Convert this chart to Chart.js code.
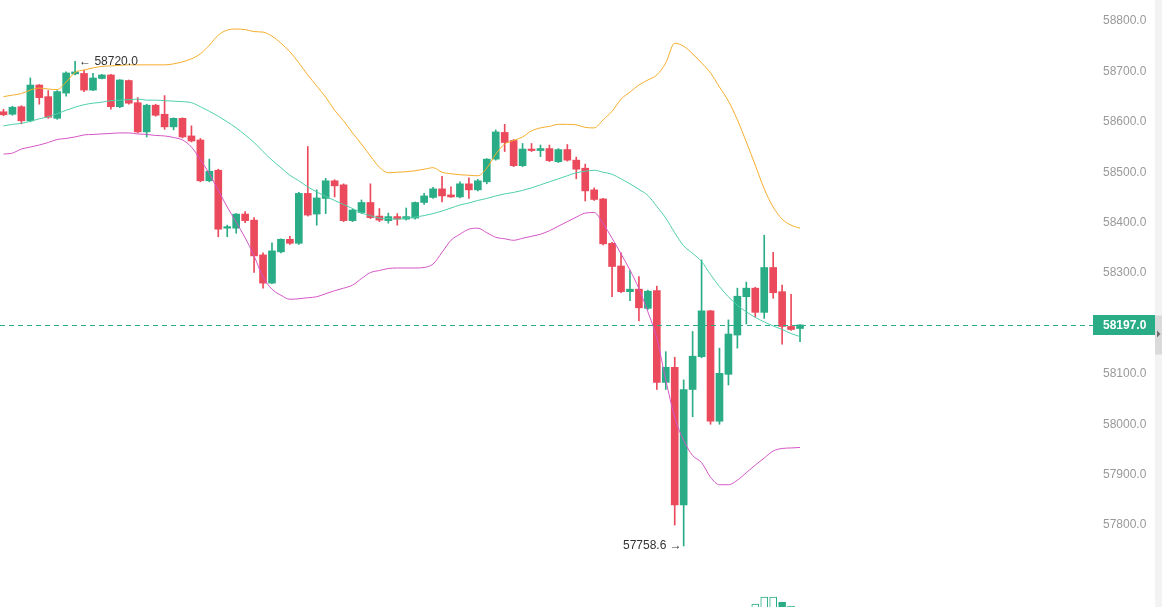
<!DOCTYPE html>
<html>
<head>
<meta charset="utf-8">
<script src="https://cdn.jsdelivr.net/npm/chart.js@4.4.1/dist/chart.umd.min.js"></script>
<style>
  html, body { margin: 0; padding: 0; background: #fff; overflow: hidden; }
  #wrap { position: relative; width: 1162px; height: 607px; overflow: hidden; }
  #rail { position: absolute; left: 1155px; top: 0; width: 7px; height: 607px; background: #f3f3f3; }
  #priceBox { position: absolute; left: 0; top: 0; width: 1162px; height: 578px; }
  #volBox { position: absolute; left: 0; top: 578px; width: 1162px; height: 100px; }
</style>
</head>
<body>
<div id="wrap">
  <div id="rail"></div>
  <div id="priceBox"><canvas id="priceChart"></canvas></div>
  <div id="volBox"><canvas id="volChart"></canvas></div>
</div>
<script>
// candles, oldest first
const opens = [58620,58615,58630,58602,58673,58650,58607,58657,58695,58696,
  58663,58686,58693,58630,58682,58638,58580,58633,58615,58590,
  58607,58572,58564,58483,58504,58389,58389,58417,58405,58336,
  58280,58342,58367,58359,58458,58417,58448,58483,58475,58404,
  58420,58440,58413,58404,58412,58407,58409,58440,58450,58467,
  58455,58451,58477,58465,58481,58526,58579,58563,58513,58546,
  58543,58547,58521,58545,58524,58508,58465,58447,58359,58314,
  58263,58268,58230,58265,58083,58113,57840,58069,58134,58225,
  58006,58099,58177,58253,58270,58222,58311,58263,58194,58190];
const highs = [58625,58631,58632,58687,58674,58662,58662,58699,58720,58702,
  58696,58694,58694,58684,58683,58648,58635,58635,58652,58608,
  58608,58592,58567,58526,58506,58395,58418,58422,58410,58340,
  58360,58368,58373,58460,58551,58465,58488,58485,58477,58427,
  58445,58477,58428,58419,58418,58429,58441,58458,58470,58492,
  58471,58481,58489,58486,58527,58584,58595,58565,58557,58557,
  58554,58554,58547,58555,58530,58516,58469,58448,58361,58340,
  58305,58293,58266,58274,58144,58133,58088,58184,58326,58226,
  58151,58207,58270,58282,58272,58375,58341,58276,58258,58198];
const lows = [58612,58613,58596,58600,58635,58607,58605,58651,58693,58660,
  58662,58685,58625,58628,58635,58578,58570,58611,58585,58584,
  58568,58560,58481,58481,58372,58372,58379,58400,58301,58270,
  58279,58340,58357,58357,58413,58395,58418,58451,58402,58402,
  58418,58408,58402,58399,58395,58405,58407,58436,58448,58441,
  58450,58449,58448,58463,58477,58524,58541,58511,58511,58541,
  58531,58521,58519,58522,58487,58443,58444,58356,58253,58261,
  58245,58205,58228,58069,58069,57800,57758.6,58015,58132,58000,
  58000,58078,58151,58199,58213,58210,58250,58159,58186,58164];
const closes = [58614,58629,58602,58673,58648,58609,58660,58697,58699,58663,
  58687,58693,58630,58683,58637,58580,58633,58613,58590,58607,
  58570,58562,58483,58502,58387,58392,58417,58404,58334,58280,
  58344,58367,58359,58458,58415,58449,58483,58473,58404,58425,
  58440,58410,58405,58412,58407,58412,58440,58453,58467,58453,
  58451,58477,58465,58483,58526,58580,58559,58513,58546,58543,
  58547,58523,58545,58524,58506,58463,58446,58358,58313,58263,
  58268,58231,58264,58083,58113,57840,58069,58135,58225,58006,
  58101,58179,58254,58270,58222,58311,58261,58194,58188,58197];

// bollinger bands
const upperBand = [58650,58653,58656,58663,58667,58665,58664,58679,58698,58703,
  58707,58710,58711,58712,58713,58713,58713,58713,58713,58715,
  58719,58725,58735,58752,58772,58782,58784,58783,58779,58778,
  58770,58756,58739,58717,58693,58671,58649,58623,58602,58578,
  58556,58532,58510,58499,58500,58501,58503,58506,58509,58500,
  58497,58495,58494,58493,58508,58536,58556,58563,58570,58582,
  58588,58591,58595,58595,58594,58589,58588,58604,58621,58645,
  58659,58673,58683,58693,58717,58756,58750,58735,58717,58697,
  58669,58641,58604,58560,58514,58467,58431,58407,58395,58389];
const midBand = [58592,58595,58597,58601,58606,58610,58616,58623,58629,58634,
  58637,58639,58642,58643,58644,58645,58643,58643,58642,58641,
  58640,58638,58630,58621,58611,58600,58588,58574,58559,58541,
  58524,58509,58494,58483,58471,58461,58452,58444,58436,58428,
  58419,58414,58409,58408,58407,58409,58411,58414,58418,58423,
  58429,58435,58439,58444,58448,58453,58457,58460,58464,58469,
  58475,58481,58487,58493,58499,58502,58504,58500,58496,58487,
  58477,58466,58454,58432,58409,58380,58354,58339,58323,58297,
  58273,58253,58236,58223,58212,58203,58195,58188,58180,58174];
const lowerBand = [58536,58538,58546,58550,58554,58559,58565,58567,58570,58574,
  58575,58576,58577,58578,58578,58576,58575,58573,58572,58569,
  58564,58550,58525,58497,58464,58431,58401,58370,58334,58292,
  58268,58256,58248,58249,58251,58253,58259,58265,58270,58276,
  58289,58301,58305,58309,58310,58310,58310,58311,58318,58341,
  58365,58377,58387,58389,58380,58371,58368,58365,58369,58373,
  58377,58384,58393,58402,58411,58419,58420,58398,58369,58338,
  58306,58269,58223,58171,58088,58014,57968,57938,57924,57895,
  57880,57880,57889,57904,57919,57933,57947,57952,57953,57954];

// only the tallest volume bars peek into the view
const volumeIdx = [84, 85, 86, 87, 88];
const volumeVals = [74, 81, 81, 76, 72];

const priceTicks = [57800, 57900, 58000, 58100, 58200, 58300, 58400, 58500, 58600, 58700, 58800];

const UP = '#2aad86';
const DOWN = '#eb4a5c';
const FONT = '"Liberation Sans", Arial, sans-serif';
const idx = opens.map((_, i) => i);
const candleColors = idx.map(i => closes[i] >= opens[i] ? UP : DOWN);

// x range so that candle 0 sits at the left edge, ~9px per candle
const xMin = -0.39;
const xMax = 121.4;

const lineSet = (label, values, color) => ({
  type: 'line',
  label,
  data: idx.map(i => ({ x: i, y: values[i] })),
  borderColor: color,
  borderWidth: 1,
  pointRadius: 0,
  cubicInterpolationMode: 'monotone',
  order: 1
});

const overlay = {
  id: 'overlay',
  afterDatasetsDraw(chart) {
    const { ctx, chartArea: a, scales: { x, y } } = chart;
    const last = closes.length - 1;
    const py = Math.round(y.getPixelForValue(closes[last])) + 0.5;
    ctx.save();

    // last price line
    ctx.strokeStyle = UP;
    ctx.lineWidth = 1;
    ctx.setLineDash([5, 4]);
    ctx.beginPath();
    ctx.moveTo(a.left, py);
    ctx.lineTo(a.right + 3, py);
    ctx.stroke();
    ctx.setLineDash([]);

    // last price tag
    const bx = a.right + 3;
    ctx.fillStyle = UP;
    ctx.fillRect(bx, py - 10.5, chart.width - 7 - bx, 20);
    ctx.fillStyle = '#fff';
    ctx.font = 'bold 12px ' + FONT;
    ctx.textBaseline = 'middle';
    ctx.textAlign = 'left';
    ctx.fillText(closes[last].toFixed(1), a.right + 13, py);

    // scroll handle on the right rail
    ctx.fillStyle = '#dadada';
    ctx.fillRect(chart.width - 7, py - 10, 7, 39);
    ctx.fillStyle = '#6f6f6f';
    ctx.beginPath();
    ctx.moveTo(chart.width - 5, py + 5);
    ctx.lineTo(chart.width - 1.5, py + 8.5);
    ctx.lineTo(chart.width - 5, py + 12);
    ctx.fill();

    // highest high / lowest low markers
    ctx.font = '12px ' + FONT;
    ctx.fillStyle = '#333';
    const hi = highs.indexOf(Math.max(...highs));
    const lo = lows.indexOf(Math.min(...lows));
    ctx.textAlign = 'left';
    ctx.fillText('\u2190 ' + highs[hi].toFixed(1), x.getPixelForValue(hi) + 4, y.getPixelForValue(highs[hi]));
    ctx.textAlign = 'right';
    ctx.fillText(lows[lo].toFixed(1) + ' \u2192', x.getPixelForValue(lo) - 2, y.getPixelForValue(lows[lo]));

    ctx.restore();
  }
};

new Chart(document.getElementById('priceChart'), {
  data: {
    datasets: [
      lineSet('Upper', upperBand, '#f5ad2c'),
      lineSet('Middle', midBand, '#4fcfab'),
      lineSet('Lower', lowerBand, '#d455c5'),
      {
        type: 'bar',
        label: 'Wick',
        data: idx.map(i => ({ x: i, y: [lows[i], highs[i]] })),
        backgroundColor: candleColors,
        barThickness: 1,
        grouped: false,
        order: 3
      },
      {
        type: 'bar',
        label: 'Body',
        data: idx.map(i => ({ x: i, y: [opens[i], closes[i]] })),
        backgroundColor: candleColors,
        barThickness: 7,
        minBarLength: 1,
        grouped: false,
        order: 2
      }
    ]
  },
  options: {
    responsive: true,
    maintainAspectRatio: false,
    animation: false,
    layout: { padding: 0 },
    plugins: { legend: { display: false }, tooltip: { enabled: false } },
    scales: {
      x: {
        type: 'linear',
        offset: false,
        min: xMin,
        max: xMax,
        ticks: { display: false },
        grid: { display: false, drawTicks: false },
        border: { display: true, color: '#efefef' },
        afterFit: s => { s.height = 0; }
      },
      y: {
        position: 'right',
        min: 57695,
        max: 58841.7,
        afterBuildTicks: s => { s.ticks = priceTicks.map(v => ({ value: v })); },
        afterFit: s => { s.width = 72; s.paddingTop = 0; s.paddingBottom = 0; },
        grid: { display: false, drawTicks: false },
        border: { display: false },
        ticks: {
          padding: 13,
          color: '#999',
          font: { family: FONT, size: 12 },
          callback: v => v.toFixed(1)
        }
      }
    }
  },
  plugins: [overlay]
});

const filledVolume = new Set([87]);
new Chart(document.getElementById('volChart'), {
  type: 'bar',
  data: {
    datasets: [{
      data: volumeIdx.map((k, j) => ({ x: k, y: volumeVals[j] })),
      backgroundColor: volumeIdx.map(k => filledVolume.has(k) ? UP : '#fff'),
      borderColor: UP,
      borderWidth: 1,
      borderSkipped: false,
      barThickness: 7
    }]
  },
  options: {
    responsive: true,
    maintainAspectRatio: false,
    animation: false,
    layout: { padding: { right: 72 } },
    plugins: { legend: { display: false }, tooltip: { enabled: false } },
    scales: {
      x: { type: 'linear', offset: false, min: xMin, max: xMax, display: false },
      y: { min: 0, max: 100, display: false }
    }
  }
});
</script>
</body>
</html>
